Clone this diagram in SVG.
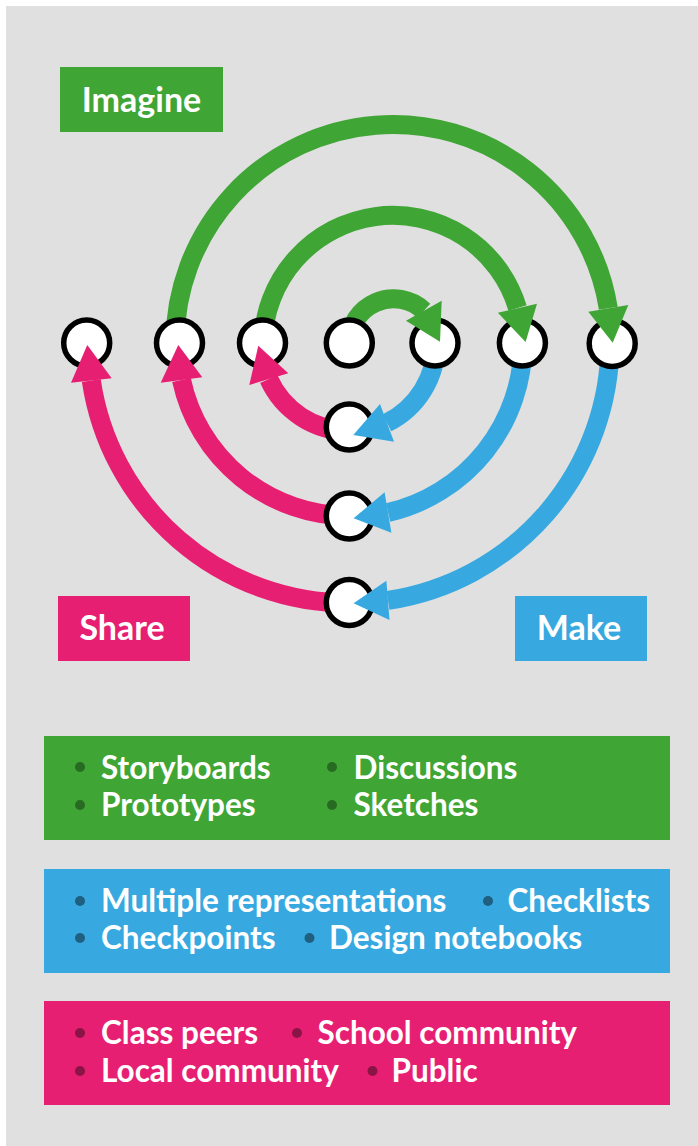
<svg xmlns="http://www.w3.org/2000/svg" width="698" height="1146" viewBox="0 0 698 1146">
  <style>
    .panel { fill: #e0e0e0; }
    .imagine { fill: #3fa535; }
    .make { fill: #37a9e0; }
    .share { fill: #e71f72; }
    .arc { fill: none; stroke-width: 19; stroke-linecap: butt; }
    .arc.imagine { stroke: #3fa535; fill: none; }
    .arc.make { stroke: #37a9e0; fill: none; }
    .arc.share { stroke: #e71f72; fill: none; }
    .node { fill: #ffffff; stroke: #000000; stroke-width: 5.5; }
    .title { font-family: Lato, "Liberation Sans", sans-serif; font-weight: 700; font-size: 34px; fill: #ffffff; text-anchor: middle; }
    .item { font-family: Lato, "Liberation Sans", sans-serif; font-weight: 700; font-size: 31.5px; fill: #ffffff; }
    .dot-imagine { fill: #276b22; }
    .dot-make { fill: #1f5f80; }
    .dot-share { fill: #8a1446; }
  </style>

  <!-- background panel -->
  <rect class="panel" x="6" y="6" width="692" height="1140"/>

  <!-- stage labels -->
  <g id="label-imagine">
    <rect class="imagine" x="60" y="67" width="163" height="65"/>
    <text class="title" x="141.5" y="111.5">Imagine</text>
  </g>
  <g id="label-share">
    <rect class="share" x="58" y="596" width="132" height="65"/>
    <text class="title" x="122" y="639.5">Share</text>
  </g>
  <g id="label-make">
    <rect class="make" x="515" y="596" width="132" height="65"/>
    <text class="title" x="579" y="639.5">Make</text>
  </g>

  <!-- cycle arcs (drawn beneath the circles) -->
  <g id="connectors">
    <!-- imagine: upper arcs around (393,343) -->
    <path class="arc imagine" d="M175,343 A218,218 0 0 1 608.3,308.3"/>
    <path class="arc imagine" d="M263,343 A130,130 0 0 1 517.5,308"/>
    <path class="arc imagine" d="M349,343 A44.5,44.5 0 0 1 423.8,310.7"/>
    <!-- make: lower-right arcs around (349,343) -->
    <path class="arc make" d="M436,343 A88,88 0 0 1 387,422.8"/>
    <path class="arc make" d="M523,343 A174,174 0 0 1 388.1,512.5"/>
    <path class="arc make" d="M610,343 A260.5,260.5 0 0 1 388,600.3"/>
    <!-- share: lower-left arcs around (349,343) -->
    <path class="arc share" d="M349,431 A88,88 0 0 1 268.8,379.2"/>
    <path class="arc share" d="M349,516 A172,172 0 0 1 181.5,380"/>
    <path class="arc share" d="M349,603 A260.4,260.4 0 0 1 91.3,380.5"/>
  </g>

  <!-- circles -->
  <g id="nodes">
    <g id="node-r1"><circle class="node" cx="86.7" cy="343" r="23"/></g>
    <g id="node-r2"><circle class="node" cx="179.5" cy="343" r="23"/></g>
    <g id="node-r3"><circle class="node" cx="262.5" cy="343" r="23"/></g>
    <g id="node-center"><circle class="node" cx="349.3" cy="343" r="23"/></g>
    <g id="node-r5"><circle class="node" cx="435" cy="343" r="23"/></g>
    <g id="node-r6"><circle class="node" cx="522.4" cy="343" r="23"/></g>
    <g id="node-r7"><circle class="node" cx="612.2" cy="343.5" r="23"/></g>
    <g id="node-d1"><circle class="node" cx="349.3" cy="427" r="23"/></g>
    <g id="node-d2"><circle class="node" cx="349.3" cy="516" r="23"/></g>
    <g id="node-d3"><circle class="node" cx="349.3" cy="602.5" r="23"/></g>
  </g>

  <!-- arrowheads, laid over the circle rims -->
  <g id="arrowheads">
    <polygon class="imagine" points="612.7,342.7 588.3,311.7 628.3,305"/>
    <polygon class="imagine" points="525.6,342 497.9,312.7 537,303.7"/>
    <polygon class="imagine" points="440,341.7 406,320.7 441.7,300.7"/>
    <polygon class="make" points="353.3,435 380,404 394,441.7"/>
    <polygon class="make" points="353.6,518.3 384.6,492.3 391.4,532.7"/>
    <polygon class="make" points="353.6,603.3 386.4,580.7 389.5,620"/>
    <polygon class="share" points="258.3,345.7 249.3,385 288.3,373.3"/>
    <polygon class="share" points="178.3,345 160.7,382.7 202.3,377.3"/>
    <polygon class="share" points="87.3,345 71,382.7 111.7,378.3"/>
  </g>

  <!-- imagine examples -->
  <g id="list-imagine">
    <rect class="imagine" x="44" y="736" width="626" height="104"/>
    <circle class="dot-imagine" cx="80" cy="767" r="5"/>
    <text class="item" x="101" y="779">Storyboards</text>
    <circle class="dot-imagine" cx="332" cy="767" r="5"/>
    <text class="item" x="353.5" y="779">Discussions</text>
    <circle class="dot-imagine" cx="80" cy="805" r="5"/>
    <text class="item" x="101" y="816">Prototypes</text>
    <circle class="dot-imagine" cx="332" cy="805" r="5"/>
    <text class="item" x="353.5" y="816">Sketches</text>
  </g>

  <!-- make examples -->
  <g id="list-make">
    <rect class="make" x="44" y="869" width="626" height="104"/>
    <circle class="dot-make" cx="80" cy="901" r="5"/>
    <text class="item" x="101" y="912">Multiple representations</text>
    <circle class="dot-make" cx="488" cy="901" r="5"/>
    <text class="item" x="507.5" y="912">Checklists</text>
    <circle class="dot-make" cx="80" cy="938" r="5"/>
    <text class="item" x="101" y="949">Checkpoints</text>
    <circle class="dot-make" cx="309.5" cy="938" r="5"/>
    <text class="item" x="329" y="949">Design notebooks</text>
  </g>

  <!-- share audiences -->
  <g id="list-share">
    <rect class="share" x="44" y="1001" width="626" height="104"/>
    <circle class="dot-share" cx="80" cy="1033" r="5"/>
    <text class="item" x="101" y="1044">Class peers</text>
    <circle class="dot-share" cx="297" cy="1033" r="5"/>
    <text class="item" x="317.5" y="1044">School community</text>
    <circle class="dot-share" cx="80" cy="1071" r="5"/>
    <text class="item" x="101" y="1082">Local community</text>
    <circle class="dot-share" cx="372.5" cy="1071" r="5"/>
    <text class="item" x="391.5" y="1082">Public</text>
  </g>
</svg>
